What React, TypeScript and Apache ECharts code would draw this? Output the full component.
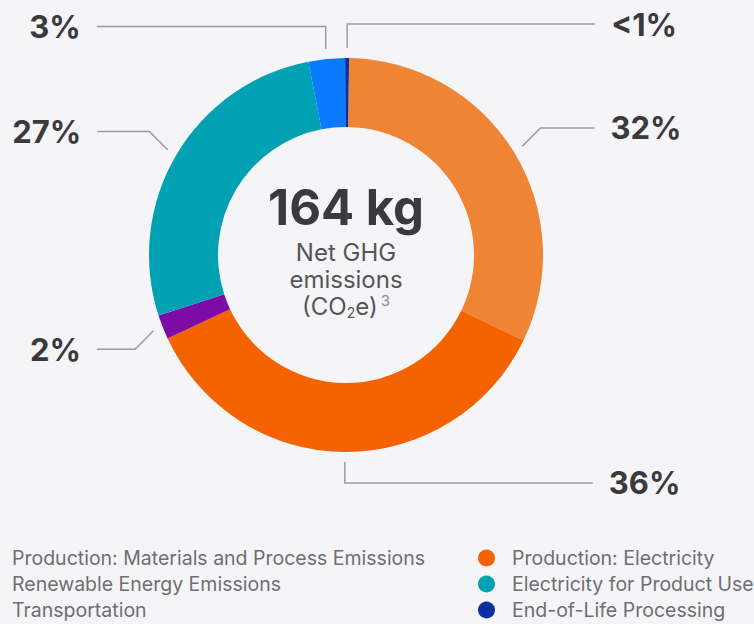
import React, { useEffect, useRef } from "react";
import * as echarts from "echarts";

const categories = [
  "Production: Materials and Process Emissions",
  "Production: Electricity",
  "Renewable Energy Emissions",
  "Electricity for Product Use",
  "Transportation",
  "End-of-Life Processing",
];
const shares = [32, 36, 2, 27, 3, 0.32];
const shareLabels = ["32%", "36%", "2%", "27%", "3%", "<1%"];
const colors = ["#EF8434", "#F56300", "#7D0BA6", "#00A1B2", "#0A7AFF", "#0A2FA0"];
const leftLegend = [categories[0], categories[2], categories[4]];
const rightLegend = [categories[1], categories[3], categories[5]];
const totalLabel = "164 kg";

// leader line style per slice: first leg ("diag" = 45°, "vert" = vertical), its length,
// horizontal leg length and the side the label sits on
const legMode = ["diag", "vert", "diag", "diag", "vert", "vert"];
const legLen = [26, 21, 26, 26, 22.5, 24];
const legLen2 = [54, 248, 38, 52, 229, 248];
const legSide = [1, 1, -1, -1, -1, 1];

export default function App() {
  const ref = useRef<HTMLDivElement>(null);
  useEffect(() => {
    const chart = echarts.init(ref.current!, null, { renderer: "svg" });
    const font = "Inter, 'Noto Sans', sans-serif";
    const legendText = { fontFamily: font, fontSize: 19.5, color: "#6E6E73" };
    const option = {
      animation: false,
      backgroundColor: "#F5F5F7",
      legend: [
        {
          data: leftLegend,
          orient: "vertical",
          left: 5,
          top: 548,
          height: 120,
          padding: 0,
          itemWidth: 2,
          itemHeight: 17,
          itemGap: 6,
          icon: "circle",
          selectedMode: false,
          itemStyle: { opacity: 0 },
          textStyle: legendText,
        },
        {
          data: rightLegend,
          orient: "vertical",
          left: 478,
          top: 548,
          height: 120,
          padding: 0,
          itemWidth: 17,
          itemHeight: 17,
          itemGap: 6,
          icon: "circle",
          selectedMode: false,
          textStyle: { ...legendText, padding: [0, 0, 0, 12] },
        },
      ],
      graphic: [
        {
          type: "text",
          x: 346,
          y: 207,
          style: {
            text: totalLabel,
            fontFamily: font,
            fontSize: 49,
            fontWeight: "bold",
            fill: "#3A3A3C",
            align: "center",
            verticalAlign: "middle",
          },
        },
        {
          type: "text",
          x: 346,
          y: 279,
          style: {
            text: "{a|Net GHG}\n{a|emissions}\n{a|(CO}{sub|2}{a|e)}{sup|3}",
            fontFamily: font,
            align: "center",
            verticalAlign: "middle",
            rich: {
              a: { fontFamily: font, fontSize: 24, lineHeight: 27, fill: "#555558", color: "#555558" },
              sub: { fontFamily: font, fontSize: 14, lineHeight: 20, fill: "#555558", color: "#555558", verticalAlign: "bottom" },
              sup: { fontFamily: font, fontSize: 15, lineHeight: 20, fill: "#8E8E93", color: "#8E8E93", verticalAlign: "top", padding: [0, 0, 0, 3] },
            },
          },
        },
      ],
      series: [
        {
          type: "pie",
          center: [346, 255],
          radius: [128, 197],
          startAngle: 89.1,
          clockwise: true,
          avoidLabelOverlap: false,
          label: {
            show: true,
            position: "outside",
            fontFamily: font,
            fontSize: 31,
            fontWeight: "bold",
            color: "#3A3A3C",
            formatter: (p: any) => shareLabels[p.dataIndex],
          },
          labelLine: {
            show: true,
            length: 20,
            length2: 20,
            lineStyle: { color: "#9B9B9E", width: 1.5 },
          },
          labelLayout: (params: any) => {
            const pts = params.labelLinePoints;
            const i = params.dataIndex;
            if (!pts || pts.length < 2) return {};
            const [x0, y0] = pts[0];
            const dx = pts[1][0] - x0;
            const dy = pts[1][1] - y0;
            const d = Math.sqrt(dx * dx + dy * dy) || 1;
            const ux = dx / d;
            const uy = dy / d;
            const gap = 10;
            const s = [x0 + ux * gap, y0 + uy * gap];
            const L = legLen[i];
            let b: number[];
            if (legMode[i] === "diag") {
              const k = L / Math.SQRT2;
              b = [s[0] + Math.sign(ux) * k, s[1] + Math.sign(uy) * k];
            } else {
              b = [s[0], s[1] + Math.sign(uy) * L];
            }
            const side = legSide[i];
            const e = [b[0] + side * legLen2[i], b[1]];
            return {
              x: e[0] + side * 16,
              y: e[1],
              align: side > 0 ? "left" : "right",
              verticalAlign: "middle",
              labelLinePoints: [s, b, e],
            };
          },
          emphasis: { disabled: true },
          data: categories.map((name, i) => ({
            name,
            value: shares[i],
            itemStyle: { color: colors[i] },
          })),
        },
      ],
    };
    chart.setOption(option as any);
    return () => chart.dispose();
  }, []);
  return (
    <div
      ref={ref}
      style={{ position: "fixed", left: 0, top: 0, width: 754, height: 624 }}
    />
  );
}
